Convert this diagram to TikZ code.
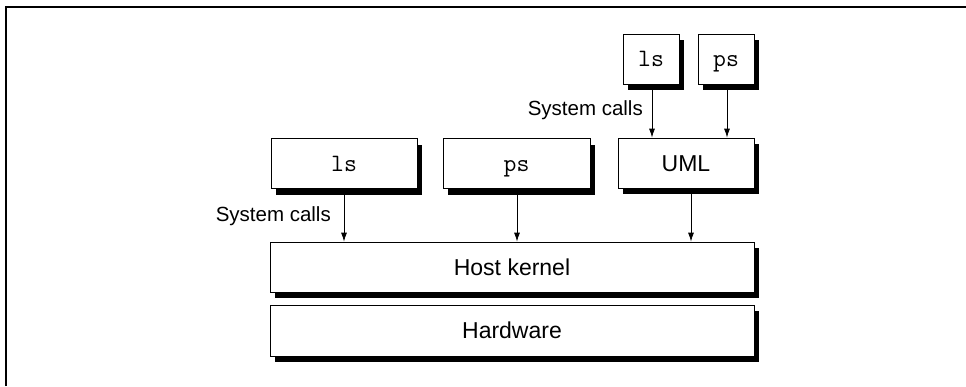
\documentclass[tikz,border=0pt]{standalone}
\usepackage{fontspec}
\setmainfont{Liberation Sans}
\usetikzlibrary{shadows,arrows.meta,calc}
\begin{document}
\begin{tikzpicture}[x=1pt,y=-1pt,
  layer/.style={draw=black, line width=0.8pt, fill=white, inner sep=0pt,
    minimum height=50pt, font=\fontsize{23}{26}\selectfont,
    text height=16pt, text depth=0pt,
    general shadow={fill=black, shadow xshift=5pt, shadow yshift=-6pt}},
  prog/.style={layer, font=\ttfamily\fontsize{25}{28}\selectfont, text height=15pt},
  arr/.style={draw=black, line width=0.8pt, -{Latex[length=9pt,width=6pt]}},
  lbl/.style={font=\fontsize{20.5}{24}\selectfont, inner sep=0pt}]
\useasboundingbox (0,0) rectangle (966,386);
\draw[line width=2pt] (6,386) -- (6,7) -- (966,7);
% top layer
\node[prog, minimum width=56pt] (tls) at (651,59) {ls};
\node[prog, minimum width=56pt] (tps) at (726,59) {ps};
% middle layer
\node[prog, minimum width=146pt] (ls) at (344,163.5) {ls};
\node[prog, minimum width=147pt] (ps) at (516.5,163.5) {ps};
\node[layer, minimum width=136pt] (uml) at (686,163) {UML};
% kernel and hardware
\node[layer, minimum width=484pt] (host) at (512,267) {Host kernel};
\node[layer, minimum width=484pt, minimum height=51pt] (hw) at (512,330.5) {Hardware};
% arrows
\draw[arr] ($(tls.south)+(1,6)$) -- ($(tls.south |- uml.north)+(1,0)$);
\draw[arr] ($(tps.south)+(1,6)$) -- ($(tps.south |- uml.north)+(1,0)$);
\draw[arr] ($(ls.south)+(0,6)$) -- (ls.south |- host.north);
\draw[arr] ($(ps.south)+(0.5,6)$) -- ($(ps.south |- host.north)+(0.5,0)$);
\draw[arr] ($(uml.south)+(5,6)$) -- ($(uml.south |- host.north)+(5,0)$);
% labels
\node[lbl, anchor=east] (sc1) at (643,110) {System calls};
\node[lbl, anchor=east] (sc2) at (331,216) {System calls};
\end{tikzpicture}
\end{document}
